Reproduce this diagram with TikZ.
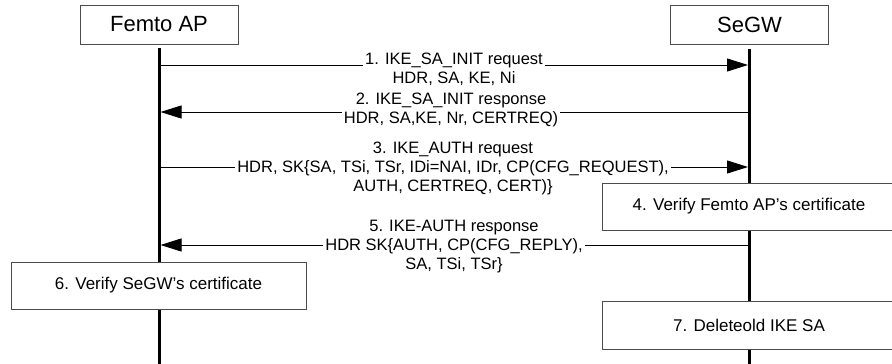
\documentclass[tikz,border=0pt]{standalone}
\usepackage{fontspec}
\setmainfont{Liberation Sans}
\usetikzlibrary{arrows.meta}
\begin{document}
\begin{tikzpicture}[x=1pt,y=-1pt,
  head/.style={draw=black!70, line width=0.9pt, fill=white, minimum width=158pt, minimum height=39pt, inner sep=0pt, font=\fontsize{22}{26}\selectfont},
  actbox/.style={draw=black!70, line width=0.9pt, fill=white, minimum width=295pt, minimum height=47pt, inner sep=0pt, font=\fontsize{17}{20}\selectfont},
  life/.style={line width=3pt},
  msg/.style={line width=0.9pt, -{Triangle[length=21pt,width=13pt]}},
  lbl/.style={fill=white, align=center, inner xsep=2pt, inner ysep=0pt, font=\fontsize{16.5}{19.3}\selectfont}
]
\useasboundingbox (0,0) rectangle (892,364);
\fill[white] (0,0) rectangle (892,364);

% actors
\node[head] (fap) at (159,24.5) {Femto AP};
\node[head] (sgw) at (749.5,25) {SeGW};
\coordinate (fapend) at (fap.south |- 0,366);
\coordinate (sgwend) at (sgw.south |- 0,366);
\draw[life] ([yshift=-4pt]fap.south) -- (fapend);
\draw[life] ([yshift=-4pt]sgw.south) -- (sgwend);

% message 1
\coordinate (m1f) at (fap.south |- 0,65);
\coordinate (m1s) at (sgw.south |- 0,65);
\draw[msg] (m1f) -- ([xshift=-1.5pt]m1s);
\node[lbl] (l1) at (454,69.5) {1. IKE\_SA\_INIT request\\HDR, SA, KE, Ni};

% message 2
\coordinate (m2f) at (fap.south |- 0,112);
\coordinate (m2s) at (sgw.south |- 0,112);
\draw[msg] (m2s) -- ([xshift=1.5pt]m2f);
\node[lbl] (l2) at (451,110) {2. IKE\_SA\_INIT response\\HDR, SA,KE, Nr, CERTREQ)};

% message 3
\coordinate (m3f) at (fap.south |- 0,167);
\coordinate (m3s) at (sgw.south |- 0,167);
\draw[msg] (m3f) -- ([xshift=-1.5pt]m3s);
\node[lbl] (l3) at (453,168.5) {3. IKE\_AUTH request\\HDR, SK\{SA, TSi, TSr, IDi=NAI, IDr, CP(CFG\_REQUEST),\\AUTH, CERTREQ, CERT)\}};

% box 4
\node[actbox, minimum width=294pt] (b4) at (749,206.5) {4. Verify Femto AP’s certificate};

% message 5
\coordinate (m5f) at (fap.south |- 0,245);
\coordinate (m5s) at (sgw.south |- 0,245);
\draw[msg] (m5s) -- ([xshift=1.5pt]m5f);
\node[lbl] (l5) at (454,246.5) {5. IKE-AUTH response\\HDR SK\{AUTH, CP(CFG\_REPLY),\\SA, TSi, TSr\}};

% boxes 6 and 7
\node[actbox] (b6) at (158.5,285.5) {6. Verify SeGW’s certificate};
\node[actbox, minimum width=294pt, minimum height=48pt] (b7) at (749,325) {7. Deleteold IKE SA};
\end{tikzpicture}
\end{document}
